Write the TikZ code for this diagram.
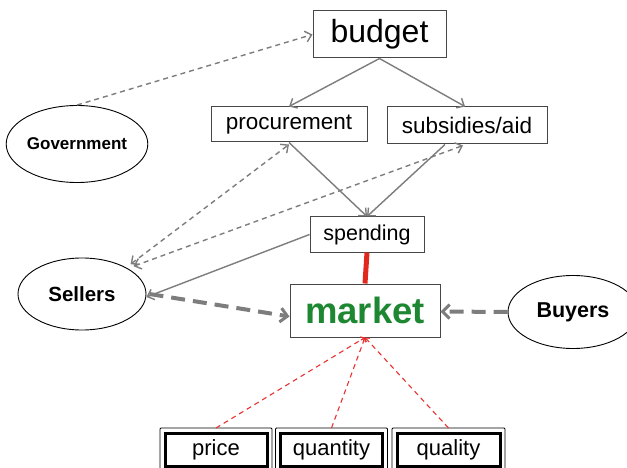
\documentclass[tikz,border=0pt]{standalone}
\usepackage{fontspec}
\setmainfont{Liberation Sans}
\usetikzlibrary{arrows.meta,shapes.geometric}
\definecolor{lgray}{RGB}{125,125,125}
\definecolor{bgray}{RGB}{70,70,70}
\definecolor{mred}{RGB}{225,40,30}
\definecolor{dred}{RGB}{235,50,50}
\definecolor{mgreen}{RGB}{30,135,50}
\tikzset{
  box/.style={draw=bgray, line width=1pt, inner sep=0pt, align=center},
  oval/.style={ellipse, draw=black, line width=0.9pt, inner sep=0pt, font=\bfseries},
  dbox/.style={draw=black, line width=3pt, inner sep=0pt, minimum width=102pt, minimum height=33pt, font=\fontsize{22}{24}\selectfont},
  gtip/.style={-{Straight Barb[length=6pt,width=11pt,line width=1.4pt]}},
  gsolid/.style={draw=lgray, line width=1.4pt, gtip},
  gdash/.style={draw=lgray, line width=1.4pt, dash pattern=on 5pt off 4pt},
  gboth/.style={gdash, {Straight Barb[length=6pt,width=11pt,line width=1.4pt]}-{Straight Barb[length=6pt,width=11pt,line width=1.4pt]}},
  gthick/.style={draw=lgray, line width=4pt, dash pattern=on 14pt off 8pt, -{Straight Barb[length=7pt,width=14pt,line width=3pt]}},
  rdash/.style={draw=dred, line width=1.1pt, dash pattern=on 5pt off 4pt, -{Straight Barb[length=3pt,width=6pt,line width=1.1pt]}},
}
\begin{document}
\begin{tikzpicture}[x=1pt,y=-1pt]
\useasboundingbox (0,0) rectangle (627,468);
\fill[white] (0,0) rectangle (627,468);
% nodes
\node[box, minimum width=133pt, minimum height=47pt, font=\fontsize{32}{34}\selectfont] (budget) at (379.5,34.5) {budget};
\node[box, minimum width=156pt, minimum height=35pt, font=\fontsize{22.5}{24}\selectfont] (proc) at (289,124.5) {\raisebox{-1.5pt}{procurement}};
\node[box, minimum width=160pt, minimum height=37pt, font=\fontsize{22.5}{24}\selectfont] (subs) at (467,125.5) {\raisebox{-1.5pt}{subsidies/aid}};
\node[box, minimum width=114pt, minimum height=35pt, font=\fontsize{21.5}{24}\selectfont] (spend) at (367,234.5) {\raisebox{-1pt}{spending}};
\node[box, minimum width=150pt, minimum height=53pt, font=\fontsize{36.5}{38}\selectfont\bfseries, text=mgreen] (market) at (365,310.5) {market};
\node[oval, minimum width=140pt, minimum height=77pt, font=\fontsize{17}{18}\selectfont\bfseries] (gov) at (77,144) {Government};
\node[oval, minimum width=128pt, minimum height=72pt, font=\fontsize{20.5}{22}\selectfont\bfseries] (sellers) at (82,294) {Sellers};
\node[oval, minimum width=130pt, minimum height=73pt, font=\fontsize{21.5}{23}\selectfont\bfseries] (buyers) at (573,312) {Buyers};
\node[dbox] (price) at (216,449.5) {price};
\node[dbox] (quant) at (331.5,449.5) {quantity};
\node[dbox, minimum width=103pt] (qual) at (448.5,449.5) {quality};
\foreach \n in {price,quant,qual}{
  \draw[black, line width=0.8pt, rounded corners=1pt] ([shift={(-3.5pt,3.5pt)}]\n.north west) rectangle ([shift={(3.5pt,-3.5pt)}]\n.south east);
}
% connectors
\draw[gdash, gtip] (gov.north) -- (budget.west);
\draw[gsolid] (budget.south) -- (proc.north);
\draw[gsolid] (budget.south) -- ([xshift=-2pt]subs.north);
\draw[gsolid] (proc.south) -- (spend.north);
\draw[gsolid] ([xshift=-22pt]subs.south) -- (spend.north);
\path (sellers.north east) ++(3pt,4pt) coordinate (s1);
\path (s1) ++(3pt,-2pt) coordinate (s2);
\draw[gboth] (s1) -- ([yshift=-2pt]proc.south);
\draw[gboth] (s2) -- ([shift={(-4pt,-1pt)}]subs.south);
\draw[gsolid] (spend.west) -- ([yshift=-3pt]sellers.east);
\draw[mred, line width=5pt] (spend.south) -- (market.north);
\draw[gthick] ([shift={(3pt,0pt)}]sellers.east) -- ([yshift=-6pt]market.west);
\draw[gthick] (buyers.west) -- ([yshift=-1pt]market.east);
\draw[rdash] ([yshift=3.5pt]price.north) -- (market.south);
\draw[rdash] ([yshift=3.5pt]quant.north) -- (market.south);
\draw[rdash] ([yshift=3.5pt]qual.north) -- (market.south);
\end{tikzpicture}
\end{document}
